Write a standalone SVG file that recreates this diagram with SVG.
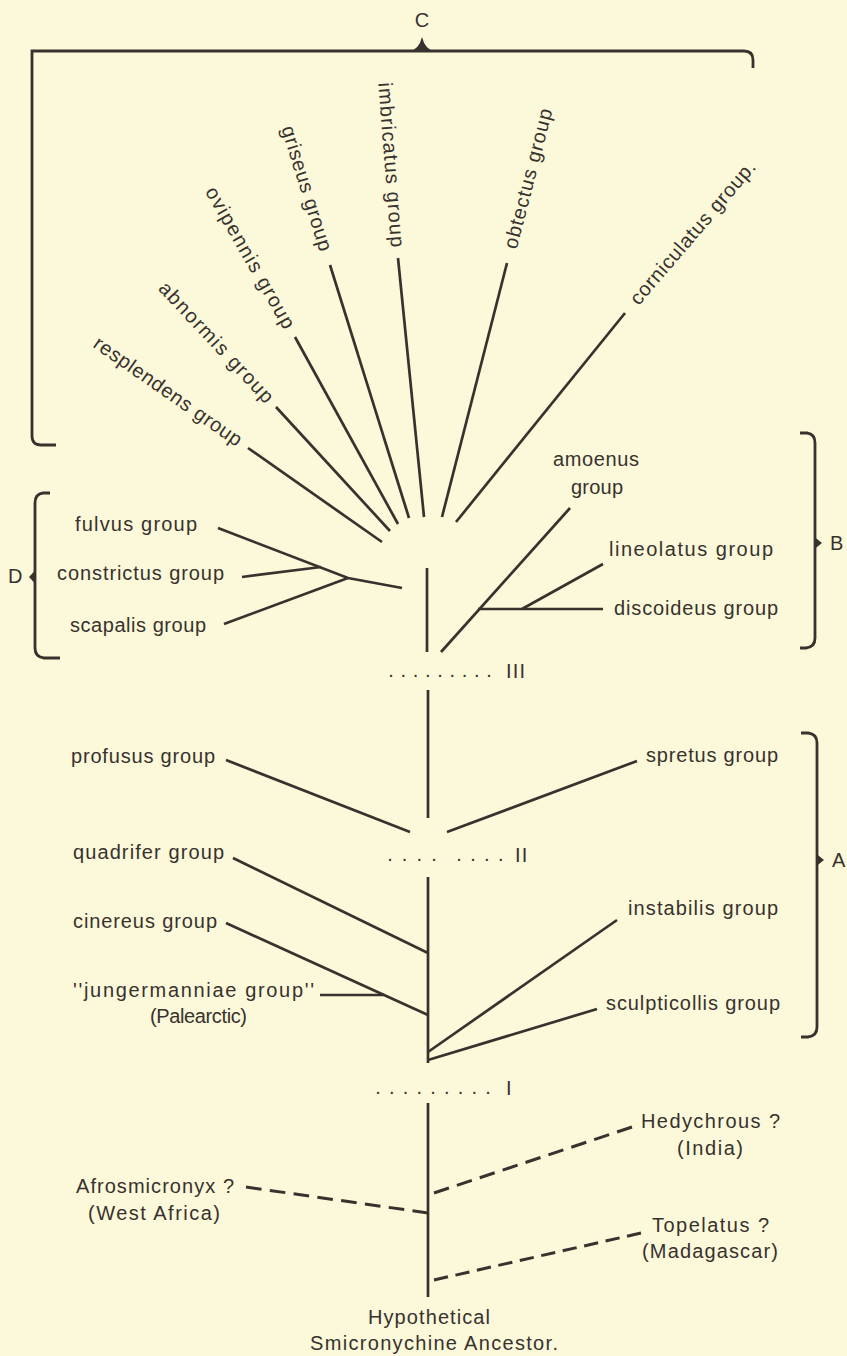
<svg xmlns="http://www.w3.org/2000/svg" width="847" height="1356" viewBox="0 0 847 1356">
<style>
  .t { font-family: "Liberation Sans", Arial, sans-serif; font-size: 20px; fill: #37322d; }
  .ln { stroke: #37322d; stroke-width: 2.7; fill: none; stroke-linecap: butt; }
  .dash { stroke: #37322d; stroke-width: 3; fill: none; stroke-dasharray: 15 8; }
  .br { stroke: #37322d; stroke-width: 2.8; fill: none; }
  .fill { fill: #37322d; stroke: none; }
</style>
<rect width="847" height="1356" fill="#fcf8da"/>

<!-- brackets -->
<g id="bracket-C">
  <path class="br" d="M56,445 L41,445 Q32,445 32,436 L32,51 L744,51 Q753,51 753,60 L753,68"/>
  <path class="fill" d="M408,52 Q419,50 422,37 Q425,50 436,52 Z"/>
  <text class="t" x="422" y="27" text-anchor="middle">C</text>
</g>
<g id="bracket-D">
  <path class="br" d="M50,493 L43,493 Q35,494 35,503 L35,648 Q35,657 44,658 L60,658"/>
  <path class="fill" d="M35.5,570 L29,577 L35.5,584 Z"/>
  <text class="t" x="8" y="583">D</text>
</g>
<g id="bracket-B">
  <path class="br" d="M800,433 L807,433 Q815,434 815,443 L815,638 Q815,647 806,648 L800,648"/>
  <path class="fill" d="M814.5,537 L822,543 L814.5,549 Z"/>
  <text class="t" x="830" y="550">B</text>
</g>
<g id="bracket-A">
  <path class="br" d="M801,733 L808,733 Q817,734 817,743 L817,1027 Q817,1036 808,1037 L801,1037"/>
  <path class="fill" d="M816.5,854 L824,860 L816.5,866 Z"/>
  <text class="t" x="832" y="867">A</text>
</g>

<!-- connectors -->
<g id="connectors">
  <!-- C fan -->
  <line class="ln" x1="248" y1="448" x2="382" y2="542"/>
  <line class="ln" x1="276" y1="407" x2="390" y2="531"/>
  <line class="ln" x1="295" y1="337" x2="398" y2="524"/>
  <line class="ln" x1="330" y1="265" x2="409" y2="518"/>
  <line class="ln" x1="398" y1="258" x2="424" y2="517"/>
  <line class="ln" x1="507" y1="263" x2="442" y2="517"/>
  <line class="ln" x1="625" y1="313" x2="456" y2="522"/>
  <!-- D -->
  <polyline class="ln" points="218,528 348,578 402,588"/>
  <line class="ln" x1="242" y1="577" x2="321" y2="567"/>
  <line class="ln" x1="224" y1="624" x2="348" y2="578"/>
  <!-- B -->
  <line class="ln" x1="570" y1="508" x2="441" y2="652"/>
  <line class="ln" x1="478" y1="609" x2="603" y2="609"/>
  <line class="ln" x1="522" y1="609" x2="603" y2="564"/>
  <!-- stems -->
  <line class="ln" x1="427" y1="568" x2="427" y2="652"/>
  <line class="ln" x1="428" y1="690" x2="428" y2="818"/>
  <line class="ln" x1="428" y1="877" x2="428" y2="1063"/>
  <line class="ln" x1="428" y1="1103" x2="428" y2="1297"/>
  <!-- II level -->
  <line class="ln" x1="226" y1="760" x2="410" y2="832"/>
  <line class="ln" x1="637" y1="761" x2="447" y2="832"/>
  <!-- I level -->
  <line class="ln" x1="233" y1="858" x2="428" y2="953"/>
  <line class="ln" x1="226" y1="923" x2="428" y2="1015"/>
  <line class="ln" x1="320" y1="995" x2="384" y2="995"/>
  <line class="ln" x1="617" y1="920" x2="428" y2="1052"/>
  <line class="ln" x1="597" y1="1009" x2="428" y2="1060"/>
  <!-- dashed -->
  <line class="dash" x1="434" y1="1193" x2="632" y2="1127" pathLength="199"/>
  <line class="dash" x1="428" y1="1213" x2="246" y2="1187" pathLength="176"/>
  <line class="dash" x1="434" y1="1280" x2="641" y2="1233" pathLength="222"/>
</g>

<!-- level markers -->
<g id="level-III">
  <text class="t" x="388.2" y="677" letter-spacing="6.69">.........</text>
  <text class="t" x="506" y="678" letter-spacing="1.2">III</text>
</g>
<g id="level-II">
  <text class="t" x="387.2" y="861" letter-spacing="9.1">....</text>
  <text class="t" x="456.2" y="861" letter-spacing="8.4">....</text>
  <text class="t" x="515" y="862" letter-spacing="1.2">II</text>
</g>
<g id="level-I">
  <text class="t" x="375.2" y="1094" letter-spacing="8.19">.........</text>
  <text class="t" x="506" y="1095">I</text>
</g>

<!-- C group nodes (rotated) -->
<g id="resplendens" transform="translate(248,448) rotate(34.9)">
  <text class="t" x="-10" y="6" text-anchor="end" textLength="176" lengthAdjust="spacing">resplendens group</text>
</g>
<g id="abnormis" transform="translate(276,407) rotate(46.9)">
  <text class="t" x="-9" y="6" text-anchor="end" textLength="158" lengthAdjust="spacing">abnormis group</text>
</g>
<g id="ovipennis" transform="translate(295,337) rotate(60.2)">
  <text class="t" x="-11" y="6" text-anchor="end" textLength="160" lengthAdjust="spacing">ovipennis group</text>
</g>
<g id="griseus" transform="translate(330,265) rotate(72.7)">
  <text class="t" x="-15" y="6" text-anchor="end" textLength="130" lengthAdjust="spacing">griseus group</text>
</g>
<g id="imbricatus" transform="translate(398,258) rotate(85.5)">
  <text class="t" x="-11" y="6" text-anchor="end" textLength="165" lengthAdjust="spacing">imbricatus group</text>
</g>
<g id="obtectus" transform="translate(507,263) rotate(-75.5)">
  <text class="t" x="15" y="6" textLength="144" lengthAdjust="spacing">obtectus group</text>
</g>
<g id="corniculatus" transform="translate(625,313) rotate(-49.5)">
  <text class="t" x="14" y="6" textLength="182" lengthAdjust="spacing">corniculatus group.</text>
</g>

<!-- D nodes -->
<g id="fulvus"><text class="t" x="75" y="531" textLength="122" lengthAdjust="spacing">fulvus group</text></g>
<g id="constrictus"><text class="t" x="57" y="580" textLength="167" lengthAdjust="spacing">constrictus group</text></g>
<g id="scapalis"><text class="t" x="70" y="632" textLength="136" lengthAdjust="spacing">scapalis group</text></g>

<!-- B nodes -->
<g id="amoenus">
  <text class="t" x="553" y="466" textLength="86" lengthAdjust="spacing">amoenus</text>
  <text class="t" x="571" y="494" textLength="52" lengthAdjust="spacing">group</text>
</g>
<g id="lineolatus"><text class="t" x="609" y="556" textLength="164" lengthAdjust="spacing">lineolatus group</text></g>
<g id="discoideus"><text class="t" x="614" y="615" textLength="164" lengthAdjust="spacing">discoideus group</text></g>

<!-- A nodes -->
<g id="profusus"><text class="t" x="71" y="763" textLength="144" lengthAdjust="spacing">profusus group</text></g>
<g id="spretus"><text class="t" x="646" y="762" textLength="132" lengthAdjust="spacing">spretus group</text></g>
<g id="quadrifer"><text class="t" x="73" y="859" textLength="151" lengthAdjust="spacing">quadrifer group</text></g>
<g id="cinereus"><text class="t" x="73" y="928" textLength="144" lengthAdjust="spacing">cinereus group</text></g>
<g id="instabilis"><text class="t" x="628" y="915" textLength="150" lengthAdjust="spacing">instabilis group</text></g>
<g id="jungermanniae">
  <text class="t" x="73" y="997" textLength="241" lengthAdjust="spacing">''jungermanniae group''</text>
  <text class="t" x="150" y="1023" textLength="97" lengthAdjust="spacing">(Palearctic)</text>
</g>
<g id="sculpticollis"><text class="t" x="606" y="1010" textLength="174" lengthAdjust="spacing">sculpticollis group</text></g>

<!-- outgroups -->
<g id="hedychrous">
  <text class="t" x="641" y="1128" textLength="139" lengthAdjust="spacing">Hedychrous ?</text>
  <text class="t" x="677" y="1155" textLength="66" lengthAdjust="spacing">(India)</text>
</g>
<g id="afrosmicronyx">
  <text class="t" x="76" y="1193" textLength="158" lengthAdjust="spacing">Afrosmicronyx ?</text>
  <text class="t" x="88" y="1220" textLength="132" lengthAdjust="spacing">(West Africa)</text>
</g>
<g id="topelatus">
  <text class="t" x="652" y="1232" textLength="117" lengthAdjust="spacing">Topelatus ?</text>
  <text class="t" x="642" y="1258" textLength="136" lengthAdjust="spacing">(Madagascar)</text>
</g>
<g id="ancestor">
  <text class="t" x="368" y="1324" textLength="122" lengthAdjust="spacing">Hypothetical</text>
  <text class="t" x="310" y="1350" textLength="248" lengthAdjust="spacing">Smicronychine Ancestor.</text>
</g>
</svg>
